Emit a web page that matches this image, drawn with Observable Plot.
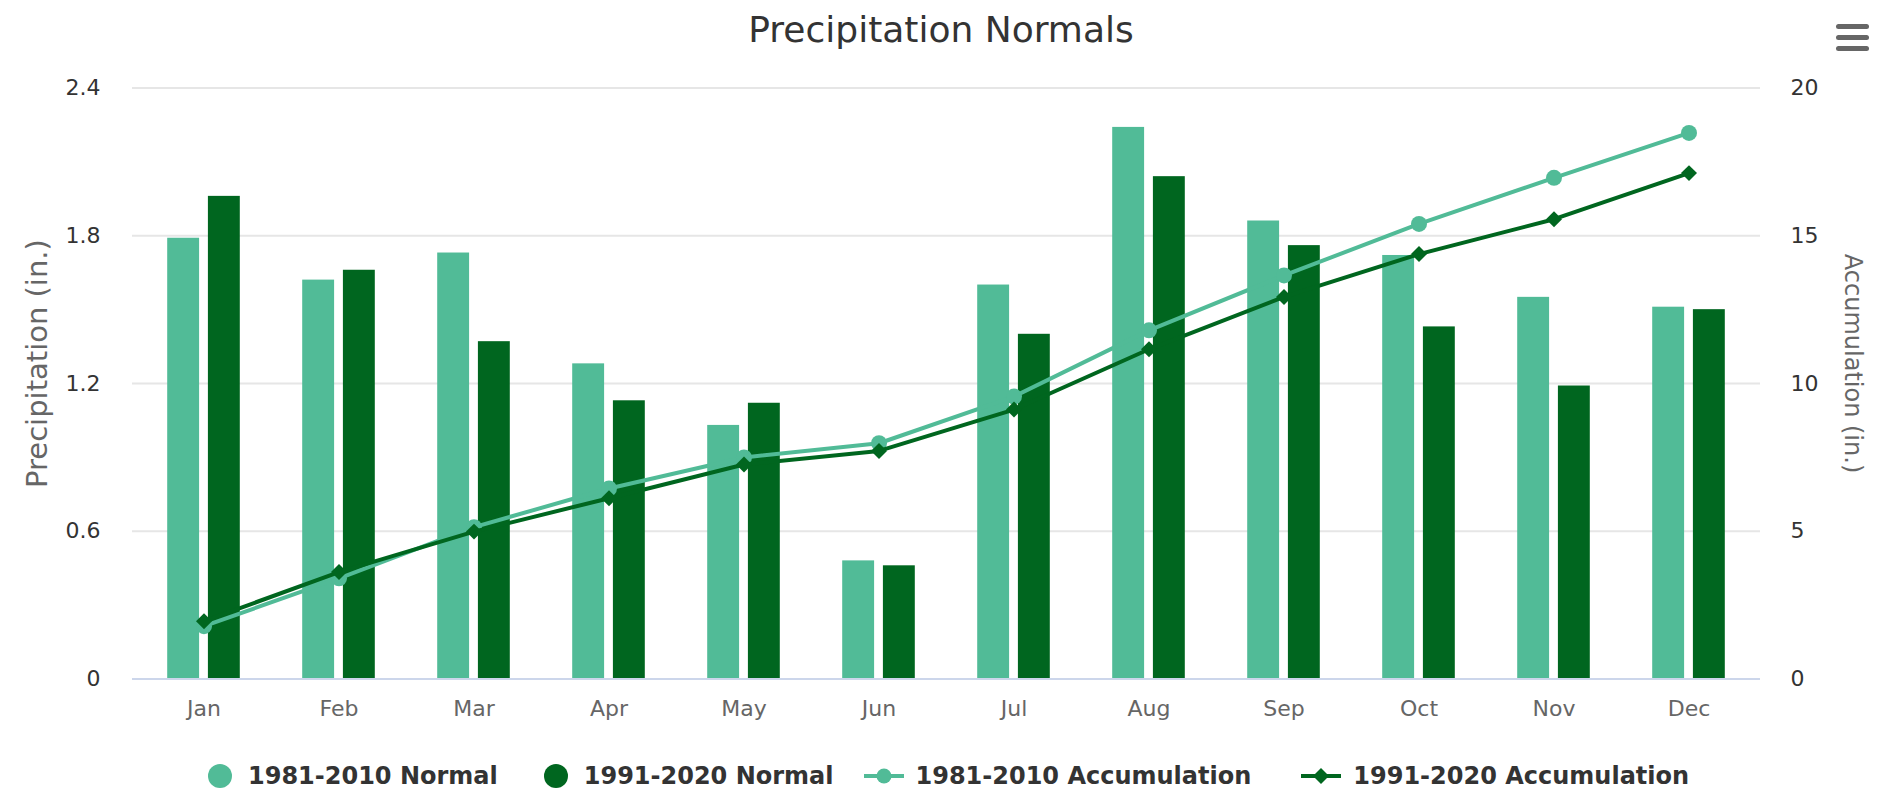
<!DOCTYPE html>
<html>
<head>
<meta charset="utf-8">
<script src="https://cdn.jsdelivr.net/npm/d3@7"></script>
<script src="https://cdn.jsdelivr.net/npm/@observablehq/plot@0.6"></script>
<style>
  html, body { margin: 0; padding: 0; background: #ffffff; }
  body { width: 1880px; height: 790px; position: relative; overflow: hidden; font-family: "DejaVu Sans", sans-serif; }
  #title { position: absolute; left: 0; top: 12px; width: 1882px; text-align: center; font-size: 36px; line-height: 36px; color: #333333; }
  #menu { position: absolute; left: 1836px; top: 24px; width: 33px; height: 27px; }
  #menu div { height: 5px; border-radius: 2.5px; background: #666666; margin-bottom: 6px; }
  #chart { position: absolute; left: 0; top: 60px; }
  #legend { position: absolute; left: 208px; top: 760px; height: 32px; display: flex; align-items: center; font-weight: bold; font-size: 24px; color: #333333; white-space: nowrap; }
  .item { display: flex; align-items: center; }
  .item svg { display: block; }
</style>
</head>
<body>
<div id="title">Precipitation Normals</div>
<div id="menu"><div></div><div></div><div></div></div>
<div id="chart"></div>
<div id="legend"></div>
<script>
// ---- data ----
const months = ["Jan", "Feb", "Mar", "Apr", "May", "Jun", "Jul", "Aug", "Sep", "Oct", "Nov", "Dec"];
const normal1981_2010 = [1.79, 1.62, 1.73, 1.28, 1.03, 0.48, 1.60, 2.24, 1.86, 1.72, 1.55, 1.51];
const normal1991_2020 = [1.96, 1.66, 1.37, 1.13, 1.12, 0.46, 1.40, 2.04, 1.76, 1.43, 1.19, 1.50];
const accum1981_2010 = [1.79, 3.41, 5.14, 6.45, 7.50, 7.98, 9.56, 11.80, 13.66, 15.40, 16.96, 18.48];
const accum1991_2020 = [1.96, 3.62, 4.99, 6.12, 7.26, 7.72, 9.12, 11.16, 12.93, 14.38, 15.56, 17.12];
const leftTicks = [0, 0.6, 1.2, 1.8, 2.4];
const rightTicks = [0, 5, 10, 15, 20];
const seriesNames = ["1981-2010 Normal", "1991-2020 Normal", "1981-2010 Accumulation", "1991-2020 Accumulation"];

const LIGHT = "#51bb97";
const DARK = "#00661f";

const rows = months.map((m, i) => ({
  month: m,
  n1: normal1981_2010[i],
  n2: normal1991_2020[i],
  a1: accum1981_2010[i],
  a2: accum1991_2020[i]
}));

// dual axis: right axis domain [0,20] mapped onto left [0,2.4]
const leftMax = leftTicks[leftTicks.length - 1];
const rightMax = rightTicks[rightTicks.length - 1];
const k = leftMax / rightMax;

const W = 1880, H = 680, mL = 132, mR = 120, mT = 27.5, mB = 61.4;
const band = (W - mL - mR) / months.length;
const groupPad = 0.2, pointPad = 0.1;
const slot = band * (1 - 2 * groupPad) / 2;
const barW = slot * (1 - 2 * pointPad);
const inL1 = band * groupPad + slot * pointPad;
const inR1 = band - inL1 - barW;
const inL2 = band * groupPad + slot + slot * pointPad;
const inR2 = band - inL2 - barW;

const chart = Plot.plot({
  width: W,
  height: H,
  marginLeft: mL,
  marginRight: mR,
  marginTop: mT,
  marginBottom: mB,
  style: { fontFamily: "DejaVu Sans, sans-serif", background: "#ffffff", overflow: "visible" },
  x: { type: "band", domain: months, padding: 0, axis: null },
  y: { domain: [0, leftMax], axis: null },
  marks: [
    Plot.gridY(leftTicks.slice(1), { stroke: "#e6e6e6", strokeOpacity: 1, strokeWidth: 2 }),
    Plot.barY(rows, { x: "month", y: "n1", fill: LIGHT, insetLeft: inL1, insetRight: inR1 }),
    Plot.barY(rows, { x: "month", y: "n2", fill: DARK, insetLeft: inL2, insetRight: inR2 }),
    Plot.ruleY([0], { stroke: "#ccd6eb", strokeWidth: 2 }),
    Plot.axisX({ tickSize: 0, tickPadding: 21, fontSize: 22, color: "#666666", label: null }),
    Plot.axisY(leftTicks, { anchor: "left", tickSize: 0, tickPadding: 32, fontSize: 22, color: "#333333", label: null, tickFormat: d => String(d) }),
    Plot.axisY(rightTicks.map(t => t * k), { anchor: "right", tickSize: 0, tickPadding: 30, fontSize: 22, color: "#333333", label: null, tickFormat: d => String(Math.round(d / k)) }),
    Plot.text(["Precipitation (in.)"], { frameAnchor: "left", textAnchor: "middle", lineAnchor: "middle", dx: -95, dy: -20, rotate: -90, fontSize: 29, fill: "#666666" }),
    Plot.text(["Accumulation (in.)"], { frameAnchor: "right", textAnchor: "middle", lineAnchor: "middle", dx: 92, dy: -20, rotate: 90, fontSize: 24, fill: "#666666" }),
    Plot.line(rows, { x: "month", y: d => d.a1 * k, stroke: LIGHT, strokeWidth: 4 }),
    Plot.dot(rows, { x: "month", y: d => d.a1 * k, fill: LIGHT, r: 8, symbol: "circle" }),
    Plot.line(rows, { x: "month", y: d => d.a2 * k, stroke: DARK, strokeWidth: 4 }),
    Plot.dot(rows, { x: "month", y: d => d.a2 * k, fill: DARK, r: 7.2, symbol: "diamond2" })
  ]
});
document.getElementById("chart").appendChild(chart);

// legend
const legend = document.getElementById("legend");
const NS = "http://www.w3.org/2000/svg";
function symbolSvg(kind, color) {
  const s = document.createElementNS(NS, "svg");
  if (kind === "bar") {
    s.setAttribute("width", 24); s.setAttribute("height", 24);
    const c = document.createElementNS(NS, "circle");
    c.setAttribute("cx", 12); c.setAttribute("cy", 12); c.setAttribute("r", 12); c.setAttribute("fill", color);
    s.appendChild(c);
  } else {
    const w = 40;
    s.setAttribute("width", w); s.setAttribute("height", 20);
    const l = document.createElementNS(NS, "line");
    l.setAttribute("x1", 0); l.setAttribute("x2", w); l.setAttribute("y1", 10); l.setAttribute("y2", 10);
    l.setAttribute("stroke", color); l.setAttribute("stroke-width", 4);
    s.appendChild(l);
    if (kind === "circle") {
      const c = document.createElementNS(NS, "circle");
      c.setAttribute("cx", w / 2); c.setAttribute("cy", 10); c.setAttribute("r", 7.5); c.setAttribute("fill", color);
      s.appendChild(c);
    } else {
      const p = document.createElementNS(NS, "path");
      p.setAttribute("d", `M${w / 2},2 L${w / 2 + 8},10 L${w / 2},18 L${w / 2 - 8},10 Z`);
      p.setAttribute("fill", color);
      s.appendChild(p);
    }
  }
  return s;
}
const legendDefs = [
  { name: seriesNames[0], kind: "bar", color: LIGHT, gap: 16, after: 46 },
  { name: seriesNames[1], kind: "bar", color: DARK, gap: 16, after: 30 },
  { name: seriesNames[2], kind: "circle", color: LIGHT, gap: 12, after: 50 },
  { name: seriesNames[3], kind: "diamond", color: DARK, gap: 12, after: 0 }
];
legendDefs.forEach(d => {
  const it = document.createElement("div");
  it.className = "item";
  it.style.marginRight = d.after + "px";
  const sym = symbolSvg(d.kind, d.color);
  sym.style.marginRight = d.gap + "px";
  it.appendChild(sym);
  const t = document.createElement("span");
  t.textContent = d.name;
  it.appendChild(t);
  legend.appendChild(it);
});
</script>
</body>
</html>
